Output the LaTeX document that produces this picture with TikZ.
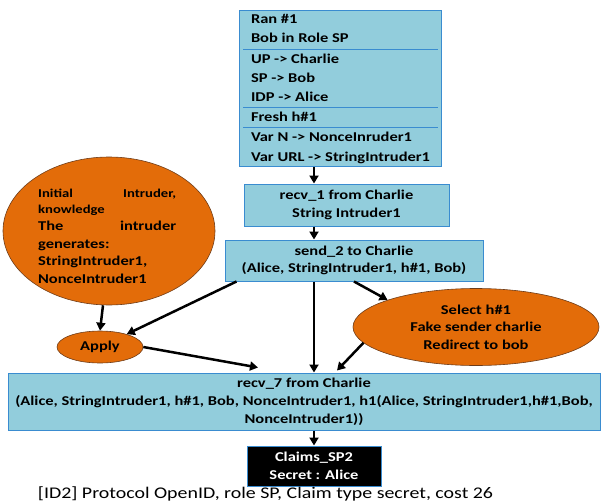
\documentclass[tikz,border=0pt]{standalone}
\usepackage{fontspec}
\setmainfont{Carlito}[FakeStretch=1.22]
\usepackage{colortbl}
\usetikzlibrary{shapes.geometric,arrows.meta}

\definecolor{boxblue}{RGB}{146,205,220}
\definecolor{edgeblue}{RGB}{58,140,208}
\definecolor{blobfill}{RGB}{227,108,9}
\definecolor{blobedge}{RGB}{110,60,25}

\begin{document}
\begin{tikzpicture}[x=1pt,y=-1pt,
        box/.style={draw=edgeblue,fill=boxblue,line width=1pt,inner sep=0pt,align=center,
            font=\bfseries\fontsize{13.5}{17.5}\selectfont},
        blob/.style={ellipse,draw=blobedge,fill=blobfill,line width=0.6pt,inner sep=0pt,align=center,
            font=\bfseries\fontsize{13.5}{17.5}\selectfont},
        link/.style={-{Triangle[length=8pt,width=9pt]},line width=2.5pt}]
            \useasboundingbox (0,0) rectangle (602,503);
            \node[box] (a) at (340.5,88.5) {
                \fontsize{13.5}{16}\selectfont
                \arrayrulecolor{edgeblue}\setlength{\arrayrulewidth}{1pt}\renewcommand{\arraystretch}{1.2}
                \begin{tabular}{ @{\hspace{8pt}}p{183pt}@{\hspace{4pt}} }
                    Ran \#1 \\
                    Bob in Role SP \\
                    \hline UP -> Charlie \\
                    SP -> Bob \\
                    IDP -> Alice \\
                    \hline Fresh h\#1 \\
                    \hline Var N -> NonceInruder1 \\
                    Var URL -> StringIntruder1 \\
                \end{tabular}
            };
            \node[box,minimum width=205pt,minimum height=42pt] (b) at (346.5,205)
                {recv\_1 from Charlie\\String Intruder1};
            \node[box,minimum width=258pt,minimum height=41pt] (c) at (354,260.5)
                {send\_2 to Charlie\\(Alice, StringIntruder1, h\#1, Bob)};
            \node[blob,minimum width=212pt,minimum height=148pt] (d) at (109,231) {
                \parbox{138pt}{
                    \vspace*{10pt}
                    {\fontsize{12}{16}\selectfont Initial\hfill Intruder,\\ knowledge\par}
                    The\hfill intruder\\ generates:\\ StringIntruder1,\\ NonceIntruder1
                }
            };
            \node[blob,minimum width=86pt,minimum height=32pt]
                (e) at (100,347) {Apply};
            \node[blob,minimum width=246pt,minimum height=77pt] (f) at (476,327)
                {Select h\#1\\Fake sender charlie\\Redirect to bob};
            \node[box,minimum width=592pt,minimum height=57pt,font=\bfseries\fontsize{13.5}{18}\selectfont]
                (g) at (304,401.5)
                {recv\_7 from Charlie\\(Alice, StringIntruder1, h\#1, Bob, NonceIntruder1, h1(Alice, StringIntruder1,h\#1,Bob,\\NonceIntruder1))};
            \node[box,fill=black,text=white,minimum width=134pt,minimum height=40pt] (h) at (314,466)
                {Claims\_SP2\\Secret : Alice};
            \node[font=\fontsize{16.3}{18}\selectfont] (i) at (265.5,494)
                {[ID2] Protocol OpenID, role SP, Claim type secret, cost 26};
            \draw[link] (a.south -| h) -- (b.north -| h);
            \draw[link] (b.south -| h) -- (c.north -| h);
            \draw[link] ([xshift=-6pt]d.south) -- (e.north);
            \draw[link] ([xshift=12pt]c.south west) -- (e);
            \draw[link] (e.east) -- ([xshift=-46pt,yshift=5pt]g.north);
            \draw[link] (c.south) -- (f.163);
            \draw[link] (c.south -| h) -- (g.north -| h);
            \draw[link] (f.188) -- ([xshift=33pt,yshift=2pt]g.north);
            \draw[link] (g.south -| h) -- (h.north);
        \end{tikzpicture}
\end{document}
